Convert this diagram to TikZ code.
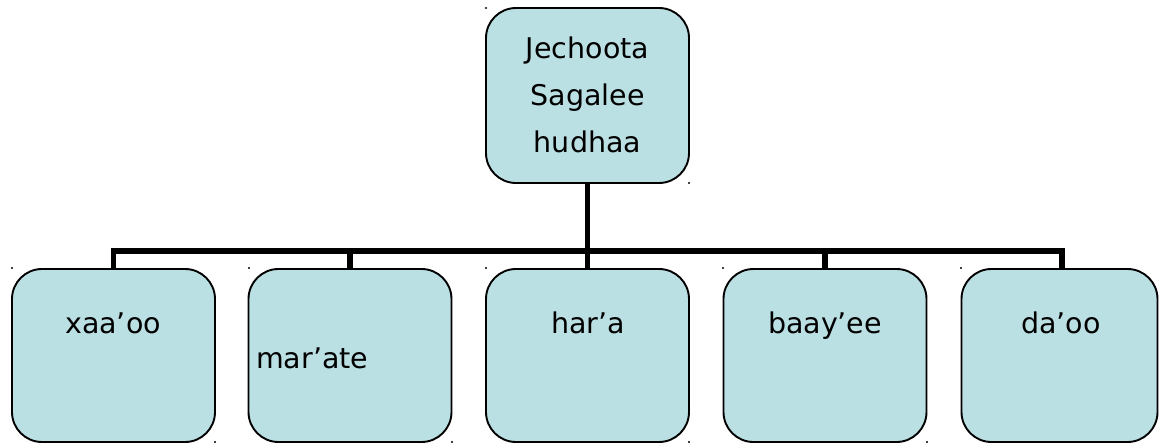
\documentclass[tikz,border=0pt]{standalone}
\usepackage{fontspec}
\setmainfont{DejaVu Sans}
\definecolor{boxblue}{HTML}{BBE0E3}
\begin{document}
\begin{tikzpicture}[x=1pt,y=-1pt,
  box/.style={draw=black, line width=1.9pt, fill=boxblue, rounded corners=30pt,
    minimum width=203pt, minimum height=173pt, inner sep=0pt},
  lbl/.style={font=\fontsize{28.5}{47}\selectfont, inner sep=0pt, text=black},
  conn/.style={line width=5.5pt, draw=black},
  dotmark/.style={fill=black}]
\useasboundingbox (0,0) rectangle (1159,444);
% boxes
\node[box, minimum height=175pt] (top) at (587.5,95.5) {};
\node[box] (b1) at (113.5,355.5) {};
\node[box] (b2) at (350,355.5) {};
\node[box] (b3) at (587.5,355.5) {};
\node[box] (b4) at (825,355.5) {};
\node[box, minimum width=196pt] (b5) at (1059.5,355.5) {};
% labels
\node[lbl, align=center] (t0) at (587.5,95) {Jechoota\\Sagalee\\hudhaa};
\node[lbl, anchor=base] (t1) at (113,333) {xaa’oo};
\node[lbl, anchor=base west] (t2) at (256,368) {mar’ate};
\node[lbl, anchor=base] (t3) at (588,333) {har’a};
\node[lbl, anchor=base] (t4) at (825,333) {baay’ee};
\node[lbl, anchor=base] (t5) at (1061,333) {da’oo};
% connectors
\coordinate (bus) at (587.5,251);
\draw[conn] (top.south) -- (bus);
\draw[conn] (b1.north) |- (bus);
\draw[conn] (b2.north) |- (bus);
\draw[conn] (b3.north) -- (bus);
\draw[conn] (b4.north) |- (bus);
\draw[conn] (b5.north) ++(2.5,0) coordinate (b5n) (b5n) |- (bus);
% corner marks
\foreach \p in {(486,8),(689,183),(12,268),(215,442),(249,268),(452,442),(486,268),(689,442),(723,268),(927,442),(961,268)}
  \fill[dotmark] \p circle (1.1pt);
\end{tikzpicture}
\end{document}
